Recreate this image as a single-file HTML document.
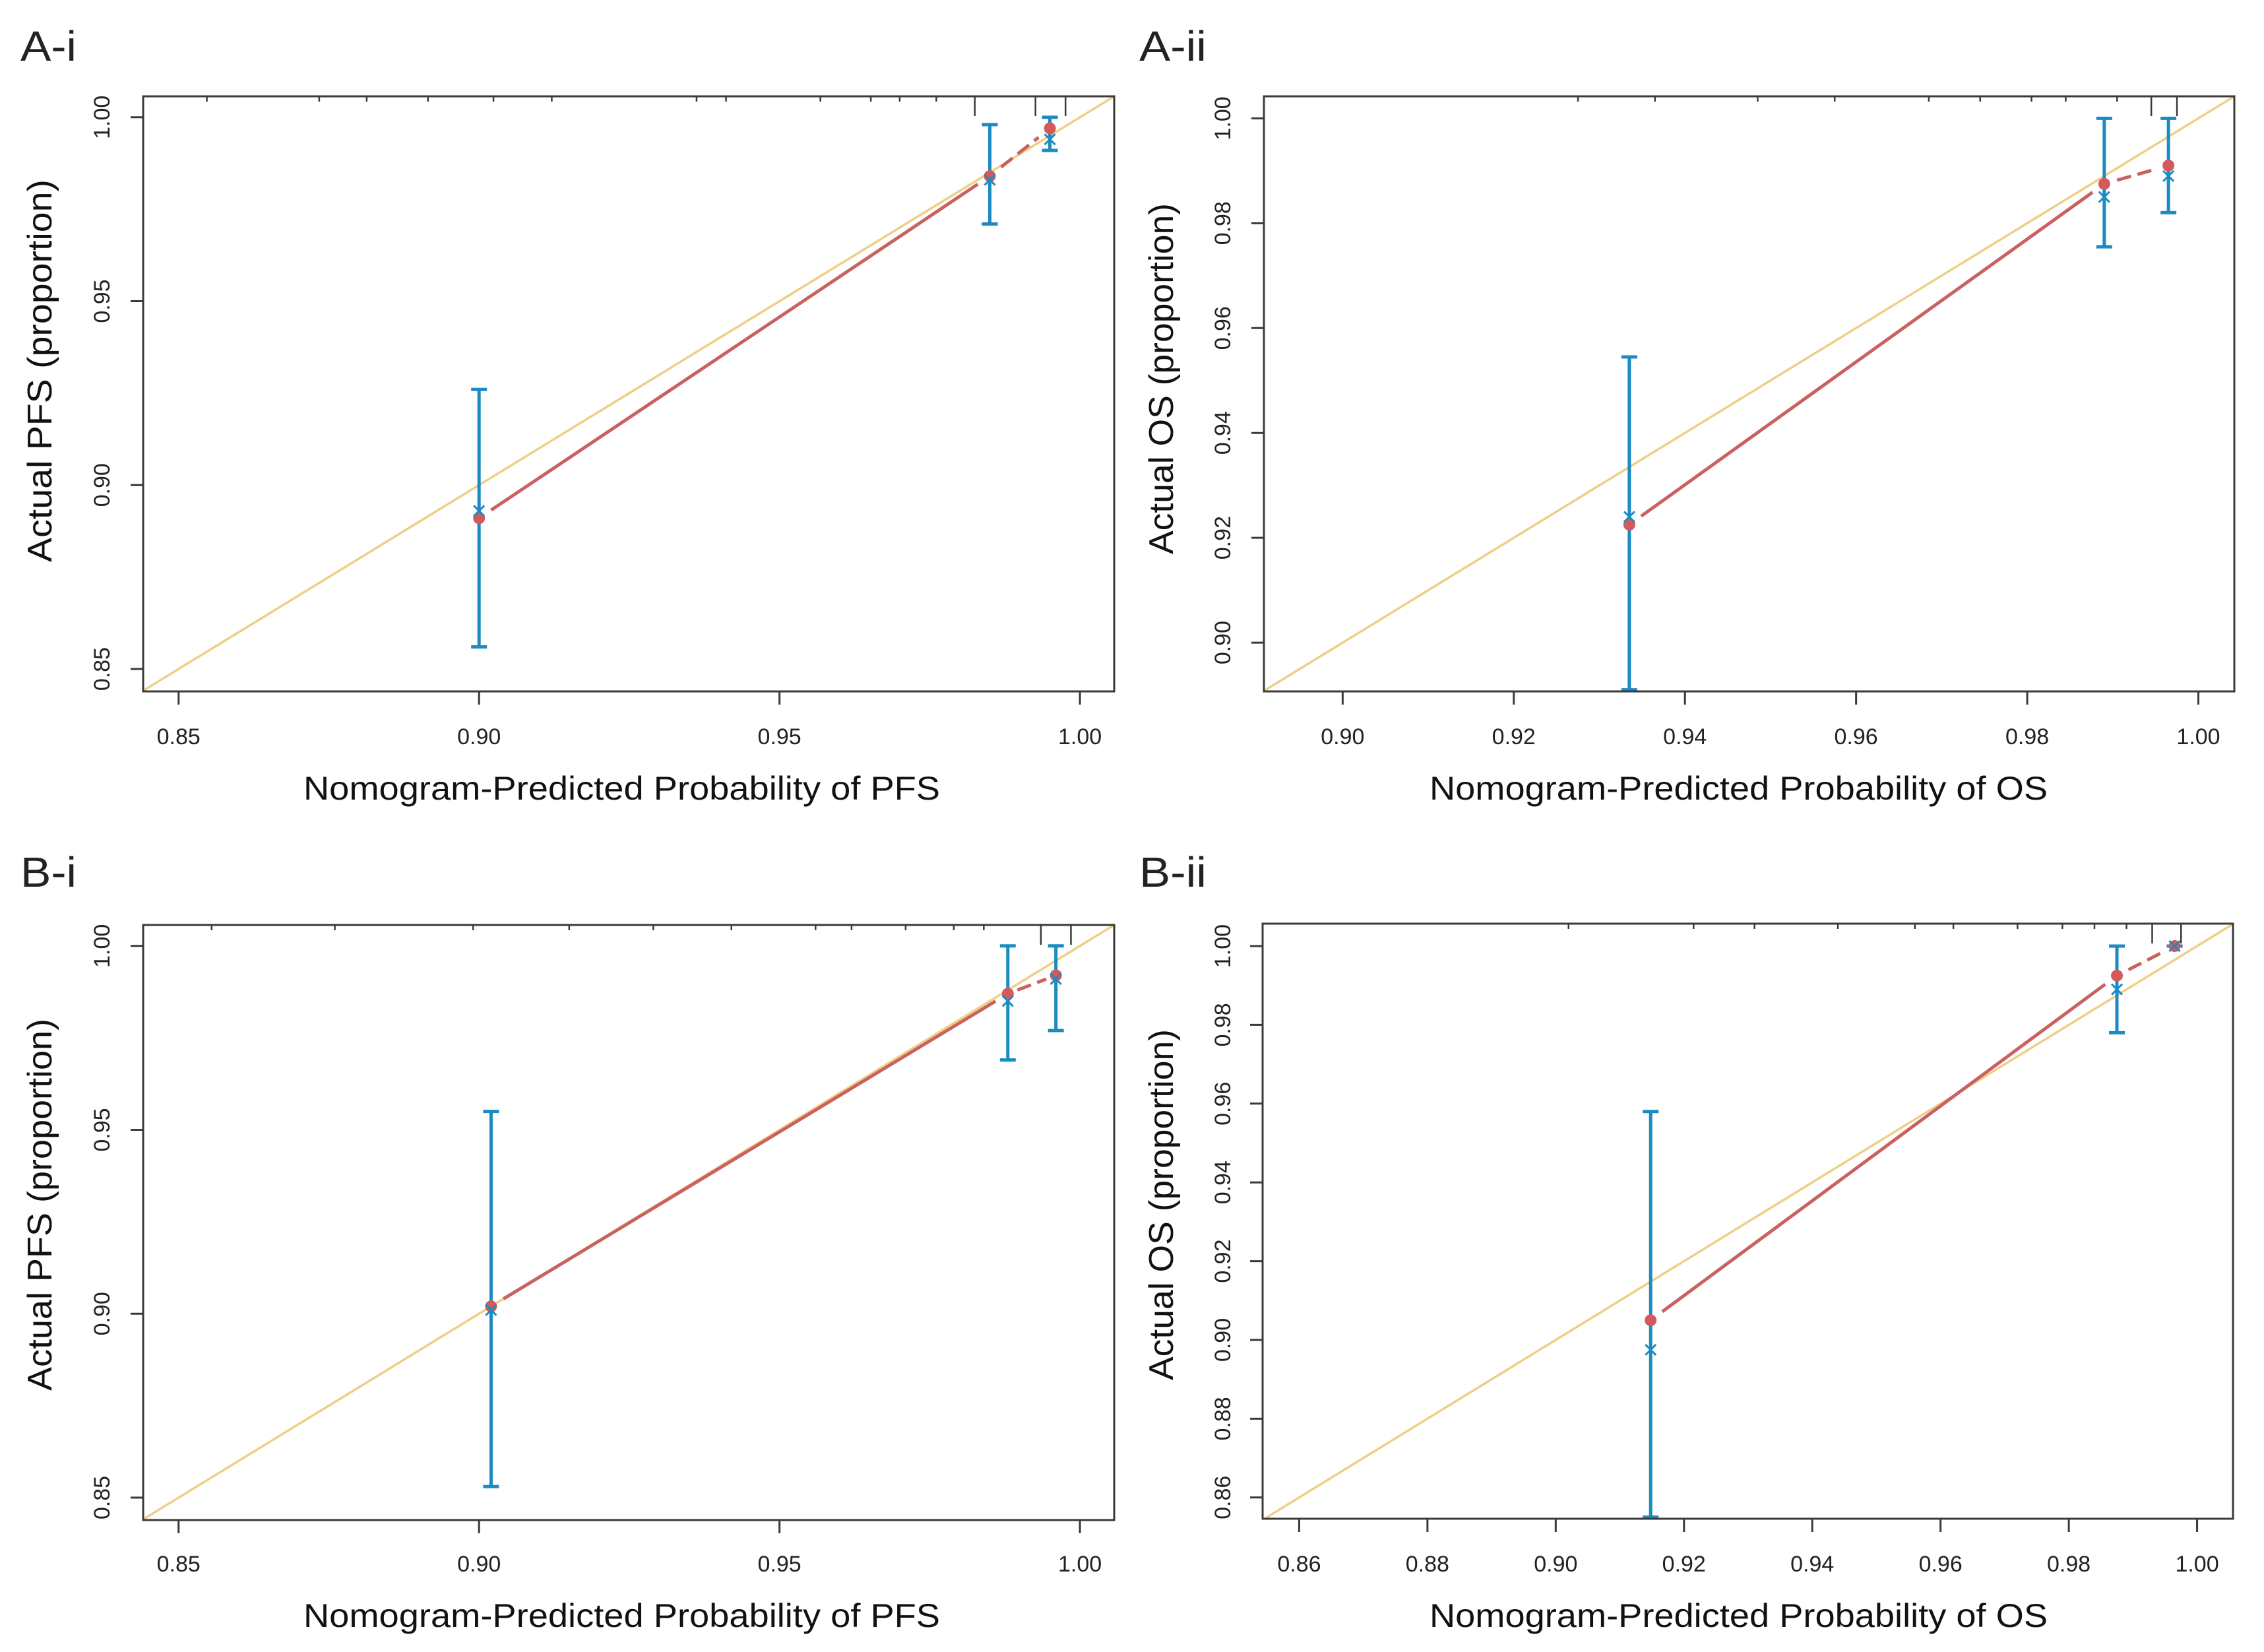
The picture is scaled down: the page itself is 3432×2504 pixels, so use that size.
<!DOCTYPE html>
<html><head><meta charset="utf-8">
<style>
html,body{margin:0;padding:0;background:#fff;}
svg{display:block;font-family:"Liberation Sans",Arial,sans-serif;}
</style></head>
<body>
<svg id="fig" width="3432" height="2504" viewBox="0 0 3432 2504" xmlns="http://www.w3.org/2000/svg">
<rect width="3432" height="2504" fill="#fff"/>
</svg>
<script>
// ---- Panel A-i (PFS) ----
const aiPred = [0.900, 0.985, 0.995];
const aiObs  = [0.891, 0.984, 0.997];
const aiLo   = [0.856, 0.971, 0.991];
const aiHi   = [0.926, 0.998, 1.000];
const aiCross= [0.893, 0.983, 0.994];
const aiRugShort = [0.8547,0.8734,0.8813,0.8915,0.9024,0.9121,0.9362,0.9411,0.9568,0.9652,0.9700,0.9761];
const aiRugLong  = [0.9825,0.9926,0.9976];
const aiXTicks = [0.85,0.90,0.95,1.00];
const aiYTicks = [0.85,0.90,0.95,1.00];
// ---- Panel A-ii (OS) ----
const aiiPred = [0.9335, 0.989, 0.9965];
const aiiObs  = [0.9225, 0.9875, 0.991];
const aiiLo   = [0.891, 0.9755, 0.982];
const aiiHi   = [0.9545, 1.000, 1.000];
const aiiCross= [0.924, 0.985, 0.989];
const aiiRugShort = [0.9275,0.9365,0.9485,0.9575,0.9685,0.9745,0.9805,0.9845,0.9905];
const aiiRugLong  = [0.9945,0.9975];
const aiiXTicks = [0.90,0.92,0.94,0.96,0.98,1.00];
const aiiYTicks = [0.90,0.92,0.94,0.96,0.98,1.00];
// ---- Panel B-i (PFS) ----
const biPred = [0.902, 0.988, 0.996];
const biObs  = [0.902, 0.987, 0.992];
const biLo   = [0.853, 0.969, 0.977];
const biHi   = [0.955, 1.000, 1.000];
const biCross= [0.901, 0.985, 0.991];
const biRugShort = [0.8555,0.8760,0.8990,0.9150,0.9290,0.9420,0.9560,0.9620,0.9710,0.9790,0.9840];
const biRugLong  = [0.9935,0.9985];
const biXTicks = [0.85,0.90,0.95,1.00];
const biYTicks = [0.85,0.90,0.95,1.00];
// ---- Panel B-ii (OS) ----
const biiPred = [0.9148, 0.9875, 0.9965];
const biiObs  = [0.905, 0.9925, 1.000];
const biiLo   = [0.855, 0.978, 1.000];
const biiHi   = [0.958, 1.000, 1.000];
const biiCross= [0.8975, 0.989, 1.000];
const biiRugShort = [0.9020,0.9215,0.9310,0.9440,0.9560,0.9620,0.9720,0.9790,0.9840,0.9890];
const biiRugLong  = [0.9930,0.9975];
const biiXTicks = [0.86,0.88,0.90,0.92,0.94,0.96,0.98,1.00];
const biiYTicks = [0.86,0.88,0.90,0.92,0.94,0.96,0.98,1.00];

const NS = "http://www.w3.org/2000/svg";
const svg = document.getElementById('fig');
function mk(tag, attrs, parent){
  const e = document.createElementNS(NS, tag);
  for (const k in attrs) e.setAttribute(k, attrs[k]);
  (parent||svg).appendChild(e);
  return e;
}

const panels = [
  {id:'a-i', label:'A-i', lx:31, ly:92, box:[217,146,1689,1048], xd:[0.8441,1.0057], yd:[0.8439,1.0057],
   pred:aiPred, obs:aiObs, lo:aiLo, hi:aiHi, cross:aiCross, rs:aiRugShort, rl:aiRugLong, xt:aiXTicks, yt:aiYTicks,
   xtitle:'Nomogram-Predicted Probability of PFS', ytitle:'Actual  PFS (proportion)', xtx:[460,965], ytx:[60,562,580], ytickX:154},
  {id:'a-ii', label:'A-ii', lx:1727, ly:92, box:[1916,146,3387,1048], xd:[0.8908,1.0042], yd:[0.8907,1.0042],
   pred:aiiPred, obs:aiiObs, lo:aiiLo, hi:aiiHi, cross:aiiCross, rs:aiiRugShort, rl:aiiRugLong, xt:aiiXTicks, yt:aiiYTicks,
   xtitle:'Nomogram-Predicted Probability of OS', ytitle:'Actual OS (proportion)', xtx:[2167,937], ytx:[1760,574,532], ytickX:1853},
  {id:'b-i', label:'B-i', lx:31, ly:1344, box:[217,1402,1689,2304], xd:[0.8441,1.0057], yd:[0.8439,1.0057],
   pred:biPred, obs:biObs, lo:biLo, hi:biHi, cross:biCross, rs:biRugShort, rl:biRugLong, xt:biXTicks, yt:biYTicks,
   xtitle:'Nomogram-Predicted Probability of PFS', ytitle:'Actual PFS (proportion)', xtx:[460,965], ytx:[60,1826,564], ytickX:154},
  {id:'b-ii', label:'B-ii', lx:1727, ly:1344, box:[1914,1400,3385,2302], xd:[0.8543,1.0056], yd:[0.8546,1.0057],
   pred:biiPred, obs:biiObs, lo:biiLo, hi:biiHi, cross:biiCross, rs:biiRugShort, rl:biiRugLong, xt:biiXTicks, yt:biiYTicks,
   xtitle:'Nomogram-Predicted Probability of OS', ytitle:'Actual OS (proportion)', xtx:[2167,937], ytx:[1760,1826,532], ytickX:1853}
];

const AX = '#3a3a3a', YEL = '#efcf86', RED = '#c9625e', DOT = '#d35a5c', BLUE = '#1b8bc2';

panels.forEach(p => {
  const [L,T,R,B] = p.box;
  const sx = v => L + (v - p.xd[0]) / (p.xd[1]-p.xd[0]) * (R-L);
  const sy = v => B - (v - p.yd[0]) / (p.yd[1]-p.yd[0]) * (B-T);
  const g = mk('g', {});
  
  

  const lab = mk('text', {x:p.lx, y:p.ly, 'font-size':64, fill:'#222', textLength: p.label.length>3?102:85, lengthAdjust:'spacingAndGlyphs'}, g);
  lab.textContent = p.label;
  
  

  // clip for plot area
  const cid = 'clip-' + p.id;
  const cp = mk('clipPath', {id:cid}, g);
  mk('rect', {x:L, y:T, width:R-L, height:B-T}, cp);
  const plot = mk('g', {'clip-path':'url(#'+cid+')'}, g);
  
  

  // ideal diagonal
  const lo = Math.min(p.xd[0], p.yd[0]) - 0.01, hi = Math.max(p.xd[1], p.yd[1]) + 0.01;
  const diag = mk('line', {x1:sx(lo), y1:sy(lo), x2:sx(hi), y2:sy(hi), stroke:YEL, 'stroke-width':3.5}, plot);
  
  

  // rug ticks from top edge
  p.rs.forEach(v => {
    const t = mk('line', {x1:sx(v), y1:T, x2:sx(v), y2:T+8, stroke:AX, 'stroke-width':2.5}, g);
    
    
  });
  p.rl.forEach(v => {
    const t = mk('line', {x1:sx(v), y1:T, x2:sx(v), y2:T+30, stroke:AX, 'stroke-width':2.5}, g);
    
    
  });

  // error bars
  p.pred.forEach((v,i) => {
    const x = sx(v), y1 = sy(p.lo[i]), y2 = sy(p.hi[i]);
    const eg = mk('g', {stroke:BLUE, 'stroke-width':5}, plot);
    
    
    mk('line', {x1:x, y1:y1, x2:x, y2:y2}, eg);
    mk('line', {x1:x-12, y1:y1, x2:x+12, y2:y1}, eg);
    mk('line', {x1:x-12, y1:y2, x2:x+12, y2:y2}, eg);
  });

  // red calibration line with gaps around points
  for (let i=0;i<p.pred.length-1;i++){
    const x1 = sx(p.pred[i]), y1 = sy(p.obs[i]), x2 = sx(p.pred[i+1]), y2 = sy(p.obs[i+1]);
    const d = Math.hypot(x2-x1, y2-y1), gap = Math.min(22, d*0.2);
    const ux = (x2-x1)/d, uy = (y2-y1)/d;
    const seg = mk('line', {x1:x1+ux*gap, y1:y1+uy*gap, x2:x2-ux*gap, y2:y2-uy*gap, stroke:RED, 'stroke-width':5,
      'stroke-dasharray': i===0 ? 'none' : '22 10'}, plot);
    
    
  }
  p.pred.forEach((v,i) => {
    const c = mk('circle', {cx:sx(v), cy:sy(p.obs[i]), r:9, fill:DOT}, plot);
    
    
    const x = sx(v), y = sy(p.cross[i]);
    const cr = mk('path', {d:`M${x-8},${y-8}L${x+8},${y+8}M${x-8},${y+8}L${x+8},${y-8}`, stroke:BLUE, 'stroke-width':3, fill:'none'}, plot);
    
    
  });

  // box
  const bx = mk('rect', {x:L, y:T, width:R-L, height:B-T, fill:'none', stroke:AX, 'stroke-width':3}, g);
  
  

  // x axis ticks
  p.xt.forEach(v => {
    const x = sx(v);
    const t = mk('line', {x1:x, y1:B, x2:x, y2:B+20, stroke:AX, 'stroke-width':3}, g);
    
    
    const tl = mk('text', {x:x, y:1128 + (T>1000?1254:0), 'font-size':34, 'text-anchor':'middle', fill:'#222'}, g);
    tl.textContent = v.toFixed(2);
    
    
  });
  // y axis ticks
  p.yt.forEach(v => {
    const y = sy(v);
    const t = mk('line', {x1:L, y1:y, x2:L-19, y2:y, stroke:AX, 'stroke-width':3}, g);
    
    
    const tx = p.ytickX + 12;
    const tl = mk('text', {x:tx, y:y, 'font-size':34, 'text-anchor':'middle', fill:'#222', transform:`rotate(-90 ${tx} ${y})`}, g);
    tl.textContent = v.toFixed(2);
    
    
  });

  // axis titles
  const xtY = 1212 + (T>1000?1254:0);
  const xt = mk('text', {x:p.xtx[0], y:xtY, 'font-size':50, fill:'#111', textLength:p.xtx[1], lengthAdjust:'spacingAndGlyphs'}, g);
  xt.textContent = p.xtitle;
  
  
  const [yx, yc, yl] = p.ytx;
  const yxb = yx + 18;
  const yt = mk('text', {x:yxb - 0, y:yc, 'font-size':52, fill:'#111', 'text-anchor':'middle', textLength:yl, lengthAdjust:'spacingAndGlyphs', transform:`rotate(-90 ${yxb} ${yc})`}, g);
  yt.setAttribute('x', yxb);
  yt.textContent = p.ytitle;
  
  
});
</script>
</body></html>
